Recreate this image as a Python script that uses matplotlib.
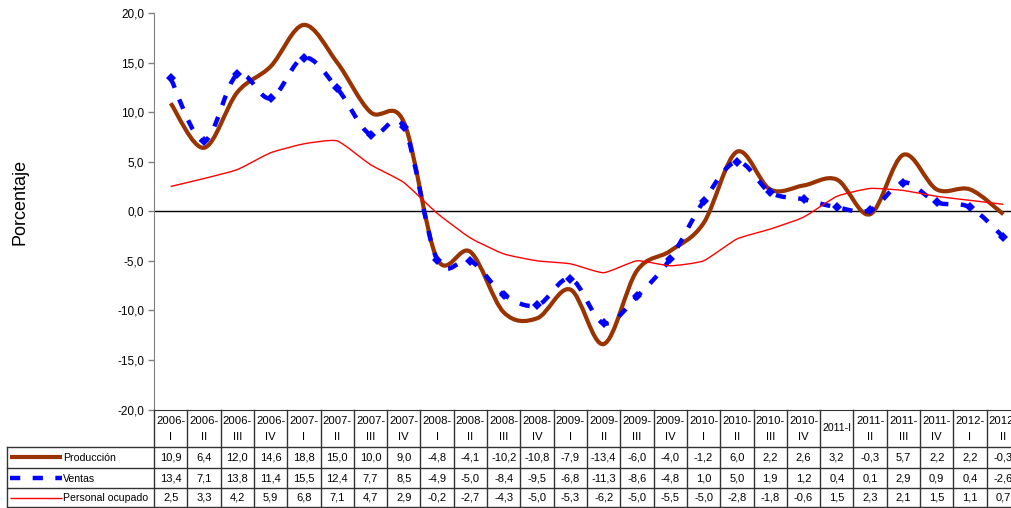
import matplotlib
matplotlib.use('Agg')
import matplotlib.pyplot as plt
from matplotlib.path import Path
from matplotlib.patches import PathPatch
from matplotlib import transforms
from matplotlib.lines import Line2D

plt.rcParams['font.family'] = ['Liberation Sans', 'DejaVu Sans']

periodos = ['2006-\nI', '2006-\nII', '2006-\nIII', '2006-\nIV',
            '2007-\nI', '2007-\nII', '2007-\nIII', '2007-\nIV',
            '2008-\nI', '2008-\nII', '2008-\nIII', '2008-\nIV',
            '2009-\nI', '2009-\nII', '2009-\nIII', '2009-\nIV',
            '2010-\nI', '2010-\nII', '2010-\nIII', '2010-\nIV',
            '2011-I', '2011-\nII', '2011-\nIII', '2011-\nIV',
            '2012-\nI', '2012-\nII']
produccion = [10.9, 6.4, 12.0, 14.6, 18.8, 15.0, 10.0, 9.0, -4.8, -4.1, -10.2, -10.8,
              -7.9, -13.4, -6.0, -4.0, -1.2, 6.0, 2.2, 2.6, 3.2, -0.3, 5.7, 2.2, 2.2, -0.3]
ventas = [13.4, 7.1, 13.8, 11.4, 15.5, 12.4, 7.7, 8.5, -4.9, -5.0, -8.4, -9.5,
          -6.8, -11.3, -8.6, -4.8, 1.0, 5.0, 1.9, 1.2, 0.4, 0.1, 2.9, 0.9, 0.4, -2.6]
personal = [2.5, 3.3, 4.2, 5.9, 6.8, 7.1, 4.7, 2.9, -0.2, -2.7, -4.3, -5.0,
            -5.3, -6.2, -5.0, -5.5, -5.0, -2.8, -1.8, -0.6, 1.5, 2.3, 2.1, 1.5, 1.1, 0.7]
series = ['Producción', 'Ventas', 'Personal ocupado']

W, H = 1012, 508
fig = plt.figure(figsize=(W / 100, H / 100), dpi=100)
ax = fig.add_axes([154 / W, 1 - 409.5 / H, (1020 - 154) / W, (409.5 - 13) / H])

n = len(periodos)
x = list(range(n))


def smooth_path(xs, ys, k=1 / 6):
    # excel-like smoothed line as cubic bezier segments
    verts = [(xs[0], ys[0])]
    codes = [Path.MOVETO]
    for i in range(len(xs) - 1):
        p0 = (xs[max(i - 1, 0)], ys[max(i - 1, 0)])
        p1 = (xs[i], ys[i])
        p2 = (xs[i + 1], ys[i + 1])
        p3 = (xs[min(i + 2, len(xs) - 1)], ys[min(i + 2, len(xs) - 1)])
        c1 = (p1[0] + (p2[0] - p0[0]) * k, p1[1] + (p2[1] - p0[1]) * k)
        c2 = (p2[0] - (p3[0] - p1[0]) * k, p2[1] - (p3[1] - p1[1]) * k)
        verts += [c1, c2, p2]
        codes += [Path.CURVE4] * 3
    return Path(verts, codes)


styles = {
    'Producción': dict(color='#993300', lw=3.0, ls='-', k=1 / 6),
    'Ventas': dict(color='#0000ff', lw=3.2, ls=(0, (2.3, 2.8)), k=1 / 6),
    'Personal ocupado': dict(color='#ff0000', lw=1.0, ls='-', k=1 / 12),
}

ax.axhline(0, color='black', lw=1.0, zorder=1)
for name, vals in zip(series, [produccion, ventas, personal]):
    st = styles[name]
    ax.add_patch(PathPatch(smooth_path(x, vals, st['k']), fill=False, edgecolor=st['color'],
                           lw=st['lw'], linestyle=st['ls'], capstyle='butt', zorder=3))
    if name == 'Ventas':
        ax.plot(x, vals, 'D', color=st['color'], ms=5, mew=0, zorder=3)

ax.set_xlim(-0.5, n - 0.5)
ax.set_ylim(-20, 20)
ax.set_yticks([-20, -15, -10, -5, 0, 5, 10, 15, 20])
ax.set_yticklabels([f'{v:.1f}'.replace('.', ',') for v in ax.get_yticks()], fontsize=8.5)
ax.tick_params(axis='y', direction='out', length=4, width=1, color='#808080', pad=3)
ax.set_xticks([])
for s in ['top', 'right']:
    ax.spines[s].set_visible(False)
ax.spines['left'].set_color('#808080')
ax.spines['bottom'].set_color('#333333')
ax.patch.set_alpha(0)

fig.text(20 / W, 1 - 202 / H, 'Porcentaje', rotation=90, fontsize=13,
         ha='center', va='center')

# data table below the plot
tab = fig.add_axes([0, 0, 1, 1], zorder=5)
tab.set_xlim(0, W)
tab.set_ylim(H, 0)
tab.axis('off')
tab.patch.set_alpha(0)
tr = transforms.blended_transform_factory(ax.transData, tab.transData)

y_head, y_r1, y_r2, y_r3, y_end = 409.5, 446.7, 468.0, 488.0, 507.0
rows = [(y_r1, y_r2), (y_r2, y_r3), (y_r3, y_end)]
lc = '#333333'
for yy in [y_r1, y_r2, y_r3, y_end]:
    tab.plot([7.5, W + 10], [yy, yy], color=lc, lw=1, clip_on=False)
tab.plot([7.5, 7.5], [y_r1, y_end], color=lc, lw=1)
for i in range(n + 1):
    tab.plot([i - 0.5, i - 0.5], [y_head, y_end], color=lc, lw=1, transform=tr, clip_on=False)

for i, lab in enumerate(periodos):
    if '\n' in lab:
        a, b = lab.split('\n')
        tab.text(i, 421, a, transform=tr, ha='center', va='center', fontsize=8.1)
        tab.text(i, 437, b, transform=tr, ha='center', va='center', fontsize=8.1)
    else:
        tab.text(i, 428, lab, transform=tr, ha='center', va='center', fontsize=7.6)

for (y0, y1), name, vals in zip(rows, series, [produccion, ventas, personal]):
    yc = (y0 + y1) / 2
    st = styles[name]
    tab.add_line(Line2D([10, 62], [yc, yc], color=st['color'], lw=st['lw'],
                        linestyle=st['ls'], solid_capstyle='butt'))
    tab.text(63, yc + 0.5, name, ha='left', va='center', fontsize=7.6)
    for i, v in enumerate(vals):
        tab.text(i, yc + 0.5, f'{v:.1f}'.replace('.', ','), transform=tr,
                 ha='center', va='center', fontsize=8)

fig.savefig('out.png', dpi=100)
